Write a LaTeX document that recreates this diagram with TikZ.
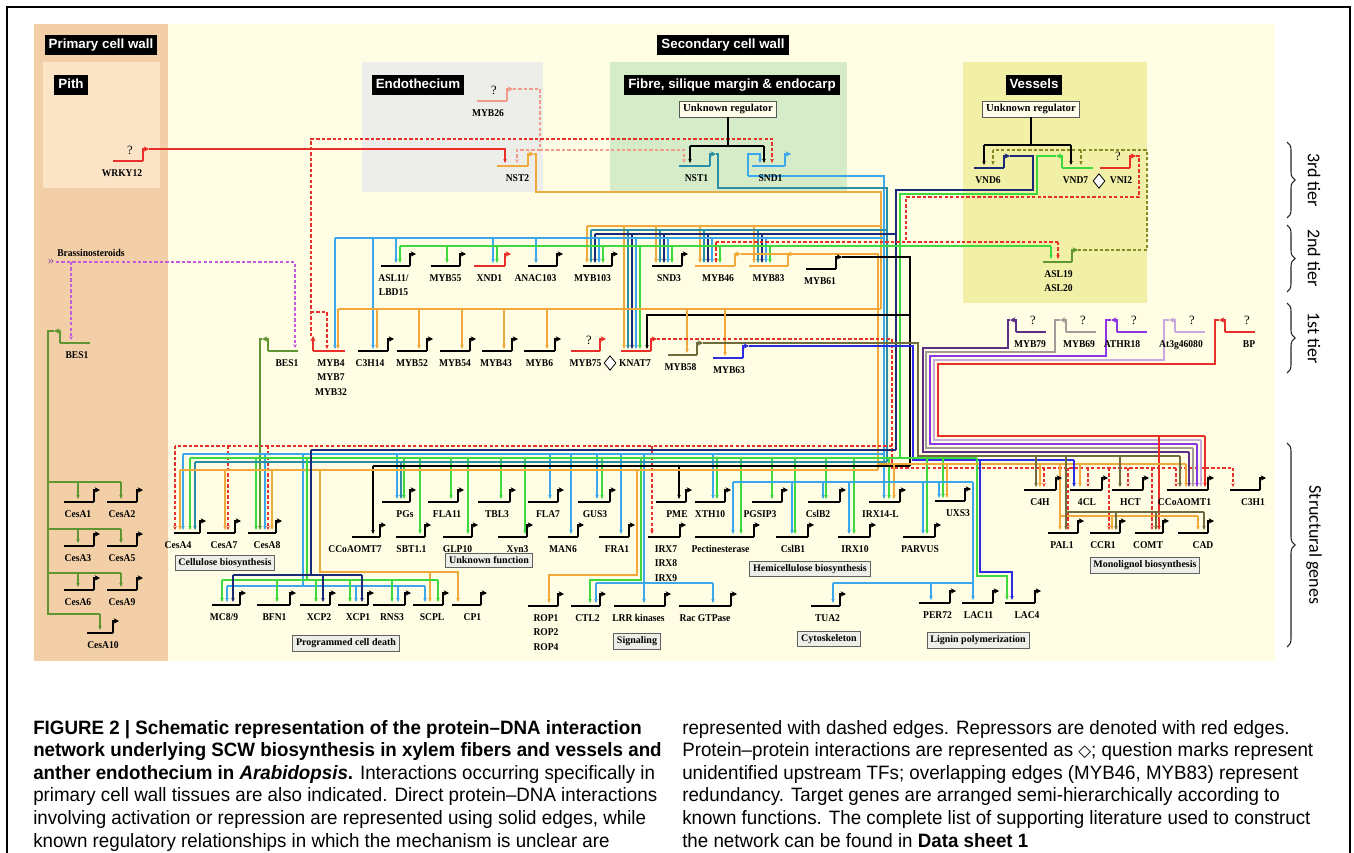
\documentclass[tikz,border=0pt]{standalone}
\usepackage{fontspec}
\usetikzlibrary{arrows.meta,shapes.geometric,decorations.pathreplacing}
\newfontfamily\gfont[FakeStretch=0.92]{Liberation Serif}
\newfontfamily\bfont{Liberation Serif}
\newfontfamily\hfont{Liberation Sans}
\newfontfamily\capfont[FakeStretch=0.97]{Liberation Sans}
\newfontfamily\tierfont{Carlito}
\newfontfamily\djv{DejaVu Sans}
\definecolor{bgTan}{HTML}{F3CFA7}
\definecolor{bgPith}{HTML}{FCE4C7}
\definecolor{bgY}{HTML}{FFFDE3}
\definecolor{bgGy}{HTML}{EDEDEA}
\definecolor{bgGn}{HTML}{D6ECC8}
\definecolor{bgVs}{HTML}{F2F0A6}
\definecolor{cOr}{HTML}{F2A93B}
\definecolor{cLb}{HTML}{3BA7EC}
\definecolor{cTe}{HTML}{2A8FA6}
\definecolor{cNv}{HTML}{1B2A78}
\definecolor{cGr}{HTML}{3ED93E}
\definecolor{cRd}{HTML}{E8302A}
\definecolor{cSa}{HTML}{EF9C8C}
\definecolor{cMg}{HTML}{C35AE0}
\definecolor{cOl}{HTML}{858A22}
\definecolor{cDg}{HTML}{5F9632}
\definecolor{cPu}{HTML}{5C2D85}
\definecolor{cGy}{HTML}{A49B98}
\definecolor{cVi}{HTML}{8C35E6}
\definecolor{cLv}{HTML}{C7A9DD}
\definecolor{cBl}{HTML}{2B2BE0}
\definecolor{cBr}{HTML}{6F6B3C}
\definecolor{cbF}{HTML}{EEEEE8}
\tikzset{
 gl/.style={line width=2.1pt,line cap=butt},
 ba/.style={line width=1.3pt,-{Stealth[length=4pt,width=4pt]}},
 cn/.style={line width=0.8pt},
 tk/.style={line width=1.8pt},
 ar/.style={-{Stealth[length=3pt,width=2.6pt]}},
 dsh/.style={dash pattern=on 2.5pt off 1.6pt},
 gn/.style={font=\gfont\bfseries\fontsize{7.8}{11}\selectfont,inner sep=0pt,align=center,anchor=north},
 qm/.style={font=\bfont\fontsize{9.5}{10}\selectfont,inner sep=0pt},
 hb/.style={fill=black,text=white,font=\hfont\bfseries\fontsize{10}{12}\selectfont,inner xsep=3pt,inner ysep=2.5pt,text height=7.5pt,text depth=2.2pt},
 ub/.style={draw=gray!70!black,fill=white!92!yellow,line width=0.6pt,font=\bfont\bfseries\fontsize{8}{9}\selectfont,inner xsep=2.5pt,inner ysep=2.3pt},
 cb/.style={draw=gray!75!black,fill=cbF,line width=0.6pt,font=\bfont\bfseries\fontsize{7.5}{9}\selectfont,inner xsep=2.5pt,inner ysep=2.5pt},
 dia/.style={diamond,draw=black,fill=white,line width=0.6pt,minimum width=9pt,minimum height=11pt,inner sep=0pt},
 brc/.style={decorate,decoration={brace,amplitude=6pt},line width=0.8pt,black!85},
 tier/.style={font=\tierfont\fontsize{13.5}{14}\selectfont,inner sep=0pt},
 captxt/.style={font=\capfont\fontsize{14.5}{17}\selectfont,anchor=base west,inner sep=0pt}
}
\newcommand{\gene}[7][black]{%
 \draw[gl,#1] (#3,#5) -- (#4,#5);
 \draw[ba,#1] (#4,#5) -- (#4,#5-12) -- (#4+6,#5-12);
 \node[gn] (#2) at ({(#3+#4)/2+(#6)},#5+8) {#7};}
\newcommand{\geneL}[7][black]{%
 \draw[gl,#1] (#3,#5) -- (#4,#5);
 \draw[ba,#1] (#3,#5) -- (#3,#5-12) -- (#3-6,#5-12);
 \node[gn] (#2) at ({(#3+#4)/2+(#6)},#5+8) {#7};}
\begin{document}
\begin{tikzpicture}[x=0.75pt,y=-0.75pt]
\useasboundingbox (0,0) rectangle (1354,853);
\fill[white] (0,0) rectangle (1354,853);
% backgrounds
\fill[bgTan] (34,24) rectangle (168,661);
\fill[bgY] (168,24) rectangle (1275,661);
\fill[bgPith] (43,62) rectangle (160,188);
\fill[bgGy] (362,62) rectangle (543,192);
\fill[bgGn] (610,62) rectangle (847,192);
\fill[bgVs] (963,62) rectangle (1147,303);
\draw[line width=1.5pt] (7,853) -- (7,7) -- (1350,7) -- (1350,853);
% headers
\node[hb] (pcw) at (101,45) {Primary cell wall};
\node[hb] (pith) at (71,85) {Pith};
\node[hb] (endo) at (418,85) {Endothecium};
\node[hb] (scw) at (723,45) {Secondary cell wall};
\node[hb] (fib) at (732,85) {Fibre, silique margin \& endocarp};
\node[hb] (ves) at (1034,85) {Vessels};
\node[ub] (ur1) at (728,109) {Unknown regulator};
\node[ub] (ur2) at (1031,109) {Unknown regulator};
% ---------- top connectors
\draw[cn,cRd,ar] (149,149) -- (505,149) -- (505,163);
\draw[cn,cSa,dsh] (513,89) -- (540,89) -- (540,150);
\draw[cn,cSa,dsh,ar] (540,150) -- (517,150) -- (517,163);
\draw[cn,cSa,dsh,ar] (540,150) -- (684,150) -- (684,163);
\draw[cn,cRd,dsh,ar] (311,336) -- (311,139) -- (772,139) -- (772,163);
\draw[cn,cRd,dsh,ar] (311,312) -- (327,312) -- (327,349);
\draw[cn] (ur1.south) -- (728,146);
\draw[cn] (690,146) -- (764,146);
\draw[cn,ar] (690,146) -- (690,163);
\draw[cn,ar] (764,146) -- (764,163);
\draw[cn] (ur2.south) -- (1031,145);
\draw[cn] (984,145) -- (1071,145);
\draw[cn,ar] (984,145) -- (984,165);
\draw[cn,ar] (1071,145) -- (1071,165);
\draw[cn,cLb,ar] (748,176) -- (748,154) -- (760,154) -- (760,163);
% bus
\draw[cn,cOr] (534,154) -- (536,154) -- (536,192) -- (881,192) -- (881,309);
\draw[cn,cLb,ar] (748,176) -- (884,176) -- (884,499);
\draw[cn,cTe] (716,154) -- (718,154) -- (718,188) -- (887,188) -- (887,462);
\draw[cn,cNv] (1010,156) -- (1033,156) -- (1033,190) -- (896,190) -- (896,450);
\draw[cn,cGr] (1056,156) -- (1037,156) -- (1037,194) -- (900,194) -- (900,458);
\draw[cn,cRd,dsh] (1136,156) -- (1139,156) -- (1139,197) -- (906,197) -- (906,242);
\draw[cn,cOl,dsh] (1078,250) -- (1147,250) -- (1147,150) -- (993,150);
\draw[cn,cOl,dsh,ar] (993,150) -- (993,165);
\draw[cn,cOl,dsh,ar] (1081,150) -- (1081,165);
% 2nd tier rails
\draw[cn,cOr] (587,226) -- (881,226);
\foreach \x in {587,656,700,754} \draw[cn,cOr,ar] (\x,226) -- (\x,263);
\draw[cn,cOr,ar] (624,226) -- (624,349);
\draw[cn,cTe] (591,230) -- (887,230);
\foreach \x in {591,660,704,758} \draw[cn,cTe,ar] (\x,230) -- (\x,263);
\draw[cn,cTe,ar] (628,230) -- (628,349);
\draw[cn,cNv] (595,234) -- (896,234);
\foreach \x in {595,664,708,762} \draw[cn,cNv,ar] (\x,234) -- (\x,263);
\draw[cn,cNv,ar] (632,234) -- (632,349);
\draw[cn,cLb] (335,238) -- (884,238);
\foreach \x in {396,493,536,599,668,712,766} \draw[cn,cLb,ar] (\x,238) -- (\x,263);
\foreach \x in {335,373,636} \draw[cn,cLb,ar] (\x,238) -- (\x,349);
\draw[cn,cRd,dsh] (716,242) -- (1058,242);
\draw[cn,cRd,dsh,ar] (716,242) -- (716,263);
\draw[cn,cRd,dsh,ar] (1058,242) -- (1058,259);
\draw[cn,cGr] (400,246) -- (1051,246);
\foreach \x in {400,447,497,603,672,720,770} \draw[cn,cGr,ar] (\x,246) -- (\x,263);
\draw[cn,cGr,ar] (640,246) -- (640,349);
\draw[cn,cGr,ar] (1051,246) -- (1051,259);
\draw[cn,cOr] (741,254) -- (794,254);
\draw[cn,cOr] (794,254) -- (878,254) -- (878,470);
\draw[cn] (842,257) -- (910,257) -- (910,466);
\draw[cn,ar] (910,315) -- (647,315) -- (647,349);
% 1st tier rails
\draw[cn,cOr] (338,309) -- (881,309);
\foreach \x in {338,377,419,462,504,547} \draw[cn,cOr,ar] (\x,309) -- (\x,349);
\draw[cn,cOr,ar] (687,309) -- (687,353);
\draw[cn,cOr,ar] (725,309) -- (725,356);
\draw[cn,cRd,dsh] (657,339) -- (892,339) -- (892,468) -- (1233,468);
\draw[cn,cRd,dsh] (892,446) -- (175,446);
\draw[cn,cBr] (703,343) -- (918,343) -- (918,456) -- (1180,456);
\draw[cn,cBl] (749,346) -- (913,346) -- (913,460) -- (1074,460);
% brassinosteroids / BES1
\node[gn,anchor=west] (brs) at (57,253) {Brassinosteroids};
\node[qm,text=cMg!70!black] (dbl) at (51,262) {»};
\draw[cn,cMg,dsh,ar] (56,262) -- (295,262) -- (295,348);
\draw[cn,cMg,dsh,ar] (71,262) -- (71,340);
\draw[cn,cDg] (54,331) -- (48,331) -- (48,614) -- (100,614);
\draw[cn,cDg,ar] (100,614) -- (100,630);
\foreach \yy/\tt in {482/499,529/543,573/587} {
 \draw[cn,cDg] (48,\yy) -- (121,\yy);
 \draw[cn,cDg,ar] (78,\yy) -- (78,\tt);
 \draw[cn,cDg,ar] (121,\yy) -- (121,\tt);}
\draw[cn,cDg,ar] (262,339) -- (260,339) -- (260,530);
% 1st tier right outputs
\draw[cn,cPu] (1010,320) -- (1008,320) -- (1008,348) -- (923,348) -- (923,452) -- (1189,452);
\draw[cn,cPu,ar] (1189,452) -- (1189,487);
\draw[cn,cGy] (1060,320) -- (1055,320) -- (1055,352) -- (926,352) -- (926,448) -- (1193,448);
\draw[cn,cGy,ar] (1193,448) -- (1193,487);
\draw[cn,cVi] (1111,320) -- (1106,320) -- (1106,356) -- (930,356) -- (930,444) -- (1197,444);
\draw[cn,cVi,ar] (1197,444) -- (1197,487);
\draw[cn,cLv] (1169,320) -- (1164,320) -- (1164,360) -- (934,360) -- (934,440) -- (1201,440);
\draw[cn,cLv,ar] (1201,440) -- (1201,487);
\draw[cn,cRd] (1219,320) -- (1215,320) -- (1215,364) -- (938,364) -- (938,436) -- (1205,436);
\draw[cn,cRd,ar] (1205,436) -- (1205,487);
\draw[cn,cRd,ar] (1159,436) -- (1159,530);
% structural left rails
\foreach \x in {175,228,268} \draw[cn,cRd,dsh,ar] (\x,446) -- (\x,530);
\draw[cn,cRd,dsh,ar] (652,446) -- (652,534);
\draw[cn,cNv] (311,450) -- (896,450);
\draw[cn,cLb] (183,454) -- (884,454);
\foreach \x/\t in {183/530,265/530,397/499,550/499,571/534,597/499,621/534,713/499,644/603} \draw[cn,cLb,ar] (\x,454) -- (\x,\t);
\draw[cn,cLb] (303,454) -- (303,586);
\draw[cn,cLb] (227,586) -- (425,586);
\foreach \x in {227,356,398,425} \draw[cn,cLb,ar] (\x,586) -- (\x,602);
\draw[cn,cLb] (596,583) -- (713,583);
\foreach \x in {596,713} \draw[cn,cLb,ar] (\x,583) -- (\x,603);
\draw[cn,cGr] (190,458) -- (977,458);
\foreach \x/\t in {190/530,256/530,404/499,451/499,501/499,602/499,717/499,772/499,826/499,889/499,420/534,468/534,525/534,741/534,795/534,854/534,927/534,943/498} \draw[cn,cGr,ar] (\x,458) -- (\x,\t);
\draw[cn,cGr,ar] (641,458) -- (641,580) -- (590,580) -- (590,603);
\draw[cn,cGr,ar] (977,458) -- (977,576) -- (1007,576) -- (1007,600);
\draw[cn,cTe] (195,462) -- (887,462);
\foreach \x/\t in {195/530,401/499} \draw[cn,cTe,ar] (\x,462) -- (\x,\t);
\draw[cn] (373,466) -- (910,466);
\foreach \x/\t in {373/534,679/499} \draw[cn,ar] (\x,466) -- (\x,\t);
\draw[cn,cOr] (180,470) -- (878,470);
\foreach \x in {180,225,272} \draw[cn,cOr,ar] (\x,470) -- (\x,530);
\draw[cn,cOr,ar] (320,470) -- (320,572) -- (458,572) -- (458,602);
\draw[cn,cOr,ar] (430,572) -- (430,602);
\draw[cn,cOr,ar] (637,470) -- (637,575) -- (549,575) -- (549,603);
% programmed cell death thick
\draw[tk,cGr] (307,458) -- (307,580);
\draw[tk,cGr] (222,580) -- (438,580);
\foreach \x in {222,277,316,350,392,438} \draw[tk,cGr,ar] (\x,580) -- (\x,602);
\draw[tk,cNv] (311,450) -- (311,575);
\draw[tk,cNv] (233,575) -- (362,575);
\foreach \x in {233,323,362} \draw[tk,cNv,ar] (\x,575) -- (\x,602);
% structural right rails
\draw[cn,cOr] (878,464) -- (1186,464);
\foreach \x/\t in {894/499,947/498,1040/487,1080/487,1186/487} \draw[cn,cOr,ar] (\x,464) -- (\x,\t);
\draw[cn,cOr,ar] (1060,464) -- (1060,530);
\draw[cn,cOr] (1060,516) -- (1198,516);
\foreach \x in {1112,1198} \draw[cn,cOr,ar] (\x,516) -- (\x,530);
\foreach \x/\t in {1044/487,1068/530,1088/487,1109/530,1128/487,1152/530,1176/487,1233/487} \draw[cn,cRd,dsh,ar] (\x,468) -- (\x,\t);
\foreach \x in {1036,1120,1180} \draw[cn,cBr,ar] (\x,456) -- (\x,487);
\draw[cn,cBr,ar] (1066,456) -- (1066,530);
\draw[cn,cBr] (1066,512) -- (1204,512);
\foreach \x in {1116,1156,1204} \draw[cn,cBr,ar] (\x,512) -- (\x,530);
\draw[cn,cBl,ar] (1074,460) -- (1074,487);
\draw[cn,cBl,ar] (980,460) -- (980,572) -- (1012,572) -- (1012,600);
\draw[cn,cLb] (733,482) -- (973,482);
\foreach \x/\t in {733/534,792/534,823/499,849/534,923/534,939/498,973/600} \draw[cn,cLb,ar] (\x,482) -- (\x,\t);
\draw[cn,cLb] (833,583) -- (973,583);
\foreach \x/\t in {833/603,931/600} \draw[cn,cLb,ar] (\x,583) -- (\x,\t);
% ---------- genes
\gene[cRd]{wrky}{113}{143}{161}{-6}{WRKY12}
\node[qm] (qw) at (130,150) {?};
\gene[cSa]{myb26}{477}{507}{101}{-4}{MYB26}
\node[qm] (q26) at (494,90) {?};
\gene[cOr]{nst2}{497}{528}{166}{5}{NST2}
\gene[cTe]{nst1}{679}{710}{166}{2}{NST1}
\gene[cLb]{snd1}{752}{785}{166}{2}{SND1}
\gene[cNv]{vnd6}{974}{1004}{168}{-1}{VND6}
\geneL[cGr]{vnd7}{1062}{1093}{168}{-2}{VND7}
\gene[cRd]{vni2}{1100}{1130}{168}{6}{VNI2}
\node[qm] (qv) at (1118,156) {?};
\node[dia] (d2) at (1099,181) {};
% 2nd tier
\gene{asl11}{381}{410}{266}{-2}{ASL11/\\LBD15}
\gene{myb55}{431}{460}{266}{0}{MYB55}
\gene[cRd]{xnd1}{474}{505}{266}{0}{XND1}
\gene{anac}{528}{557}{266}{-7}{ANAC103}
\gene{myb103}{583}{612}{266}{-5}{MYB103}
\gene{snd3}{652}{682}{266}{2}{SND3}
\gene[cOr]{myb46}{695}{735}{266}{3}{MYB46}
\gene[cOr]{myb83}{749}{788}{266}{0}{MYB83}
\gene{myb61}{806}{836}{269}{-1}{MYB61}
\gene[cDg]{asl19}{1043}{1072}{262}{1}{ASL19\\ASL20}
% 1st tier
\geneL[cDg]{bes1}{60}{90}{343}{2}{BES1}
\geneL[cDg]{bes1b}{268}{298}{351}{4}{BES1}
\draw[gl,cRd] (313,351) -- (345,351);
\draw[ba,cRd] (313,351) -- (313,336);
\node[gn] (myb4) at (331,359) {MYB4\\MYB7\\MYB32};
\gene{c3h14}{358}{388}{351}{-3}{C3H14}
\gene{myb52}{397}{427}{351}{0}{MYB52}
\gene{myb54}{440}{470}{351}{0}{MYB54}
\gene{myb43}{482}{512}{351}{-1}{MYB43}
\gene{myb6}{524}{555}{351}{0}{MYB6}
\gene[cRd]{myb75}{571}{600}{351}{0}{MYB75}
\node[qm] (q75) at (589,340) {?};
\node[dia] (d1) at (610,363) {};
\gene[cRd]{knat7}{621}{651}{351}{-1}{KNAT7}
\gene[cBr]{myb58}{668}{697}{355}{-2}{MYB58}
\gene[cBl]{myb63}{713}{743}{358}{1}{MYB63}
\geneL[cPu]{myb79}{1016}{1046}{332}{-1}{MYB79}
\geneL[cGy]{myb69}{1066}{1096}{332}{-2}{MYB69}
\geneL[cVi]{athr18}{1117}{1147}{332}{-10}{ATHR18}
\geneL[cLv]{at3g}{1175}{1205}{332}{-9}{At3g46080}
\geneL[cRd]{bp}{1225}{1255}{332}{9}{BP}
\foreach \x/\n in {1033/a,1083/b,1134/c,1192/d,1247/e} \node[qm] (q\n) at (\x,320) {?};
% structural
\gene{cesa1}{64}{94}{502}{-1}{CesA1}
\gene{cesa2}{107}{137}{502}{0}{CesA2}
\gene{cesa3}{64}{94}{546}{-1}{CesA3}
\gene{cesa5}{107}{137}{546}{0}{CesA5}
\gene{cesa6}{64}{94}{590}{-1}{CesA6}
\gene{cesa9}{107}{137}{590}{0}{CesA9}
\gene{cesa10}{87}{113}{633}{3}{CesA10}
\gene{cesa4}{174}{200}{533}{-9}{CesA4}
\gene{cesa7}{207}{235}{533}{3}{CesA7}
\gene{cesa8}{248}{276}{533}{5}{CesA8}
\gene{pgs}{382}{410}{502}{9}{PGs}
\gene{ccoaomt7}{352}{380}{537}{-11}{CCoAOMT7}
\gene{sbt}{396}{425}{537}{1}{SBT1.1}
\gene{fla11}{428}{458}{502}{4}{FLA11}
\gene{tbl3}{478}{510}{502}{3}{TBL3}
\gene{fla7}{528}{558}{502}{5}{FLA7}
\gene{gus3}{578}{610}{502}{1}{GUS3}
\gene{pme}{656}{686}{502}{6}{PME}
\gene{xth10}{695}{725}{502}{0}{XTH10}
\gene{pgsip3}{752}{782}{502}{-7}{PGSIP3}
\gene{cslb2}{808}{840}{502}{-6}{CslB2}
\gene{irx14}{869}{900}{502}{-4}{IRX14-L}
\gene{uxs3}{935}{965}{501}{8}{UXS3}
\gene{glp10}{443}{472}{537}{0}{GLP10}
\gene{xyn3}{498}{527}{537}{5}{Xyn3}
\gene{man6}{548}{578}{537}{0}{MAN6}
\gene{fra1}{599}{629}{537}{3}{FRA1}
\gene{irx7}{648}{680}{537}{2}{IRX7\\IRX8\\IRX9}
\gene{pect}{695}{754}{537}{-4}{Pectinesterase}
\gene{cslb1}{776}{808}{537}{1}{CslB1}
\gene{irx10}{838}{870}{537}{1}{IRX10}
\gene{parvus}{903}{935}{537}{1}{PARVUS}
\gene{mc89}{212}{240}{605}{-2}{MC8/9}
\gene{bfn1}{257}{290}{605}{1}{BFN1}
\gene{xcp2}{300}{330}{605}{4}{XCP2}
\gene{xcp1}{338}{368}{605}{5}{XCP1}
\gene{rns3}{373}{405}{605}{3}{RNS3}
\gene{scpl}{413}{443}{605}{4}{SCPL}
\gene{cp1}{452}{481}{605}{6}{CP1}
\gene{rop}{528}{558}{606}{3}{ROP1\\ROP2\\ROP4}
\gene{ctl2}{571}{600}{606}{2}{CTL2}
\gene{lrr}{614}{665}{606}{-1}{LRR kinases}
\gene{rac}{679}{731}{606}{0}{Rac GTPase}
\gene{tua2}{811}{840}{606}{2}{TUA2}
\gene{per72}{919}{950}{603}{3}{PER72}
\gene{lac11}{962}{993}{603}{1}{LAC11}
\gene{lac4}{1005}{1035}{603}{7}{LAC4}
\gene{c4h}{1024}{1056}{490}{0}{C4H}
\gene{cl4}{1070}{1102}{490}{1}{4CL}
\gene{hct}{1112}{1143}{490}{3}{HCT}
\gene{ccoaomt1}{1167}{1208}{490}{-3}{CCoAOMT1}
\gene{c3h1}{1230}{1260}{490}{8}{C3H1}
\gene{pal1}{1048}{1078}{533}{-1}{PAL1}
\gene{ccr1}{1090}{1120}{533}{-2}{CCR1}
\gene{comt}{1135}{1163}{533}{-1}{COMT}
\gene{cad}{1178}{1208}{533}{10}{CAD}
% category boxes
\node[cb] (k1) at (225,563) {Cellulose biosynthesis};
\node[cb] (k2) at (346,643) {Programmed cell death};
\node[cb] (k3) at (489,560) {Unknown function};
\node[cb] (k4) at (810,569) {Hemicellulose biosynthesis};
\node[cb] (k5) at (637,641) {Signaling};
\node[cb] (k6) at (829,639) {Cytoskeleton};
\node[cb] (k7) at (978,640) {Lignin polymerization};
\node[cb] (k8) at (1145,565) {Monolignol biosynthesis};
% tiers
\draw[brc] (1287,142) -- (1287,218);
\draw[brc] (1287,225) -- (1287,292);
\draw[brc] (1287,303) -- (1287,373);
\draw[brc] (1287,443) -- (1287,647);
\node[tier,rotate=-90] (t3) at (1314,180) {3rd tier};
\node[tier,rotate=-90] (t2) at (1314,258) {2nd tier};
\node[tier,rotate=-90] (t1) at (1314,338) {1st tier};
\node[tier,rotate=-90] (ts) at (1314,545) {Structural genes};
% caption
\node[captxt] (c1) at (33,734) {\bfseries FIGURE 2 | Schematic representation of the protein–DNA interaction};
\node[captxt] (c2) at (33,756.6) {\bfseries network underlying SCW biosynthesis in xylem fibers and vessels and};
\node[captxt] (c3) at (33,779.2) {\textbf{anther endothecium in \textit{Arabidopsis}.} Interactions occurring specifically in};
\node[captxt] (c4) at (33,801.8) {primary cell wall tissues are also indicated. Direct protein–DNA interactions};
\node[captxt] (c5) at (33,824.4) {involving activation or repression are represented using solid edges, while};
\node[captxt] (c6) at (33,847) {known regulatory relationships in which the mechanism is unclear are};
\node[captxt] (r1) at (682,734) {represented with dashed edges. Repressors are denoted with red edges.};
\node[captxt] (r2) at (682,756.6) {Protein–protein interactions are represented as {\djv\fontsize{12.5}{14}\selectfont ◇}; question marks represent};
\node[captxt] (r3) at (682,779.2) {unidentified upstream TFs; overlapping edges (MYB46, MYB83) represent};
\node[captxt] (r4) at (682,801.8) {redundancy. Target genes are arranged semi-hierarchically according to};
\node[captxt] (r5) at (682,824.4) {known functions. The complete list of supporting literature used to construct};
\node[captxt] (r6) at (682,847) {the network can be found in \textbf{Data sheet 1}};
\end{tikzpicture}
\end{document}
